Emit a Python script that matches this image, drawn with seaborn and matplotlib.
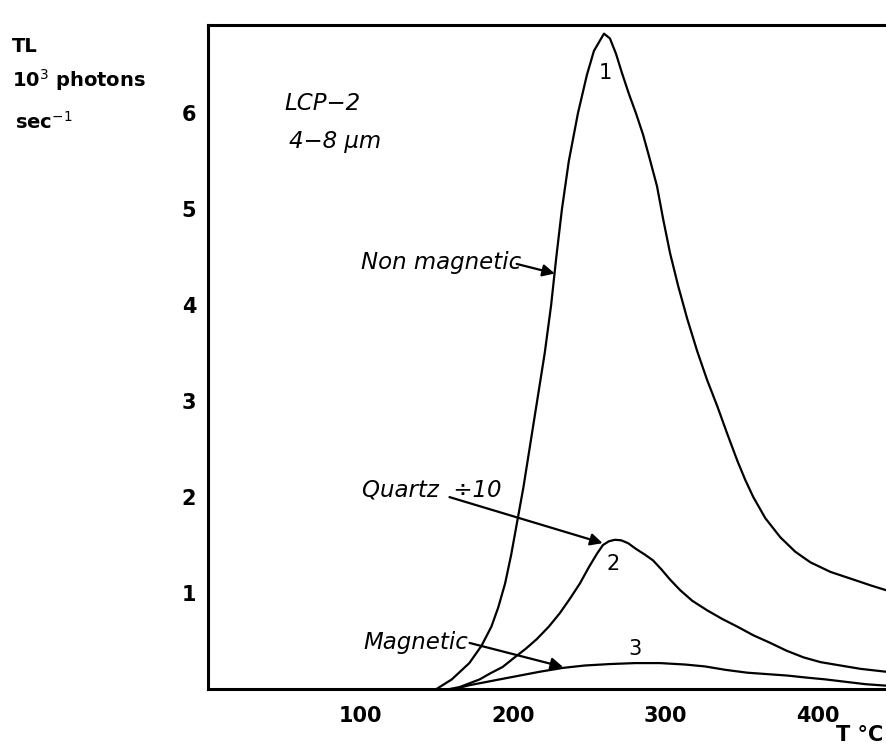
import matplotlib
matplotlib.use("Agg")
import matplotlib.pyplot as plt
import seaborn as sns
import pandas as pd

# ---- data (T in degC, TL in 10^3 photons/s) ----
t_nonmag = [150.0, 160.0, 171.5, 179.5, 186.0, 190.5, 195.0, 199.0, 203.0, 207.0, 211.0, 216.0, 221.0,
            225.2, 228.6, 232.3, 236.8, 242.8, 248.7, 253.3, 259.9, 263.8, 267.8, 271.7, 276.3, 280.9,
            285.5, 289.5, 294.7, 298.7, 303.3, 308.6, 314.5, 321.1, 327.6, 334.2, 340.8, 347.4, 352.6,
            357.9, 365.8, 375.7, 385.5, 395.4, 408.6, 423.7, 434.9, 445.0]
v_nonmag = [0.0, 0.1, 0.27, 0.45, 0.65, 0.85, 1.1, 1.4, 1.75, 2.1, 2.5, 3.0, 3.5,
            4.0, 4.5, 5.0, 5.5, 6.0, 6.4, 6.65, 6.83, 6.78, 6.62, 6.42, 6.2, 6.0,
            5.78, 5.55, 5.24, 4.9, 4.54, 4.2, 3.86, 3.52, 3.22, 2.95, 2.66, 2.38, 2.18,
            2.0, 1.78, 1.58, 1.43, 1.32, 1.22, 1.14, 1.08, 1.03]

t_quartz = [158.6, 165.1, 171.7, 178.3, 184.9, 193.4, 201.3, 208.6, 215.8, 223.7, 230.9, 237.5, 244.1,
            250.0, 255.3, 259.2, 263.2, 267.1, 271.1, 275.7, 280.9, 286.8, 292.1, 297.4, 303.3, 309.9,
            317.8, 327.6, 337.5, 347.4, 357.9, 369.1, 379.6, 390.8, 402.0, 413.2, 428.3, 445.0]
v_quartz = [0.0, 0.02, 0.06, 0.1, 0.16, 0.23, 0.33, 0.42, 0.52, 0.65, 0.79, 0.94, 1.1,
            1.27, 1.41, 1.5, 1.54, 1.555, 1.55, 1.52, 1.46, 1.4, 1.34, 1.25, 1.14, 1.03,
            0.92, 0.82, 0.73, 0.65, 0.56, 0.48, 0.4, 0.33, 0.28, 0.25, 0.21, 0.18]

t_mag = [161.8, 171.7, 181.6, 191.4, 204.6, 217.8, 232.9, 247.4, 263.8, 280.3, 296.7, 313.2, 326.3,
         339.5, 353.9, 367.1, 380.3, 392.1, 405.3, 418.4, 431.6, 445.0]
v_mag = [0.0, 0.04, 0.07, 0.1, 0.14, 0.18, 0.22, 0.245, 0.26, 0.27, 0.27, 0.255, 0.235,
         0.2, 0.17, 0.155, 0.14, 0.12, 0.1, 0.075, 0.05, 0.035]

x_ticks = [100, 200, 300, 400]
y_ticks = [1, 2, 3, 4, 5, 6]

df = pd.concat([
    pd.DataFrame({"T": t_nonmag, "TL": v_nonmag, "sample": "Non magnetic"}),
    pd.DataFrame({"T": t_quartz, "TL": v_quartz, "sample": "Quartz"}),
    pd.DataFrame({"T": t_mag, "TL": v_mag, "sample": "Magnetic"}),
])

sns.set_style("white")
plt.rcParams["font.family"] = ["DejaVu Sans"]
plt.rcParams["text.color"] = "black"

W, H = 886, 745
fig = plt.figure(figsize=(W / 100, H / 100), dpi=100)
ax = fig.add_axes([208 / W, 1 - 689 / H, 1 - 208 / W, (689 - 25) / H])

sns.lineplot(data=df, x="T", y="TL", units="sample", estimator=None, sort=False,
             color="black", linewidth=1.6, ax=ax, legend=False)
for ln in ax.lines:
    ln.set_solid_joinstyle("round")
    ln.set_solid_capstyle("round")

ax.set_xlim(0, 445)
ax.set_ylim(0, 6.92)
ax.set_xticks(x_ticks)
ax.set_yticks(y_ticks)
ax.set_xticklabels([str(v) for v in x_ticks])
ax.set_yticklabels([str(v) for v in y_ticks])
ax.set_xlabel("")
ax.set_ylabel("")

for s in ["left", "bottom", "top"]:
    ax.spines[s].set_visible(True)
    ax.spines[s].set_linewidth(2.2)
    ax.spines[s].set_color("black")
ax.spines["right"].set_visible(False)

ax.tick_params(axis="both", direction="in", length=9, width=1.8, colors="black",
               labelsize=15)
ax.tick_params(axis="x", pad=12)
ax.tick_params(axis="y", pad=8.5)
for lab in ax.get_xticklabels() + ax.get_yticklabels():
    lab.set_fontweight("bold")

# in-plot labels
it = dict(fontsize=16.5, style="italic", color="black")
ax.text(50, 6.10, "LCP\u22122", va="center", ha="left", **it)
ax.text(53, 5.71, "4\u22128 \u03bcm", va="center", ha="left", **it)
ax.text(100.5, 4.45, "Non magnetic", va="center", ha="left", **it)
ax.text(101, 2.07, "Quartz  \u00f710", va="center", ha="left", **it)
ax.text(102, 0.48, "Magnetic", va="center", ha="left", **it)

num = dict(fontsize=15, color="black", ha="center", va="center")
ax.text(260.5, 6.42, "1", **num)
ax.text(266, 1.30, "2", **num)
ax.text(280, 0.42, "3", **num)

arrow = dict(arrowstyle="-|>", color="black", lw=1.6, mutation_scale=18, shrinkA=0, shrinkB=0)
ax.annotate("", xy=(227.6, 4.33), xytext=(202.6, 4.43), arrowprops=arrow)
ax.annotate("", xy=(259, 1.52), xytext=(158.5, 2.0), arrowprops=arrow)
ax.annotate("", xy=(233, 0.23), xytext=(171.7, 0.48), arrowprops=arrow)

# axis titles outside
fig.text(12 / W, 1 - 46 / H, "TL", fontsize=14, fontweight="bold", va="center", ha="left", color="black")
fig.text(12 / W, 1 - 80 / H, r"10$^{3}$ photons", fontsize=14, fontweight="bold", va="center", ha="left",
         color="black")
fig.text(15 / W, 1 - 122 / H, r"sec$^{-1}$", fontsize=14, fontweight="bold", va="center", ha="left",
         color="black")
fig.text(836 / W, 1 - 735 / H, "T \u00b0C", fontsize=15, fontweight="bold", va="center", ha="left",
         color="black")

fig.savefig("out.png", dpi=100, facecolor="white")
